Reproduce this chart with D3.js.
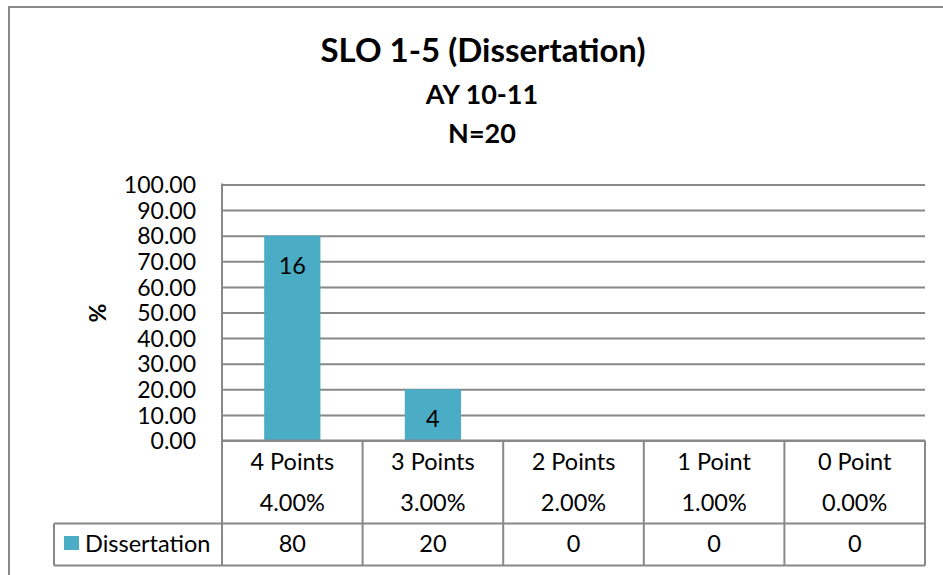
<!DOCTYPE html>
<html>
<head>
<meta charset="utf-8">
<script src="https://cdn.jsdelivr.net/npm/d3@7"></script>
<style>
  body { margin: 0; background: #fff; }
  svg text { font-family: Lato, "Open Sans", sans-serif; fill: #000; }
</style>
</head>
<body>
<svg id="chart" width="943" height="575"></svg>
<script>
// chart data
const categories = ["4 Points", "3 Points", "2 Points", "1 Point", "0 Point"];
const subLabels = ["4.00%", "3.00%", "2.00%", "1.00%", "0.00%"];
const seriesName = "Dissertation";
const percents = [80, 20, 0, 0, 0];
const counts = [16, 4, 0, 0, 0];
const yTicks = [0, 10, 20, 30, 40, 50, 60, 70, 80, 90, 100];

const svg = d3.select("#chart");
const gridColor = "#888888";
const barColor = "#4BACC6";
const labelSize = "23.5px";

const plotLeft = 222, plotRight = 925, plotTop = 184.5, zeroY = 440.5;
const row1 = 523.5, row2 = 565.5, legendLeft = 54;

// outer frame (runs off the bottom / right like the original)
svg.append("rect")
    .attr("x", 9).attr("y", 7)
    .attr("width", 960).attr("height", 600)
    .attr("fill", "none")
    .attr("stroke", gridColor)
    .attr("stroke-width", 2);

// titles
svg.append("text").attr("x", 483).attr("y", 62)
    .attr("text-anchor", "middle")
    .style("font-size", "33px").style("font-weight", "bold")
    .text("SLO 1-5 (Dissertation)");
svg.append("text").attr("x", 482).attr("y", 104)
    .attr("text-anchor", "middle")
    .style("font-size", "27px").style("font-weight", "bold")
    .text("AY 10-11");
svg.append("text").attr("x", 482).attr("y", 143)
    .attr("text-anchor", "middle")
    .style("font-size", "27px").style("font-weight", "bold")
    .text("N=20");

const x = d3.scaleBand()
    .domain(categories)
    .range([plotLeft, plotRight])
    .paddingInner(0.6)
    .paddingOuter(0.3);

const y = d3.scaleLinear()
    .domain([0, 100])
    .range([zeroY, plotTop]);

// gridlines + tick labels
const yAxis = svg.append("g")
    .attr("transform", `translate(${plotLeft},0)`)
    .call(d3.axisLeft(y)
        .tickValues(yTicks)
        .tickSize(-(plotRight - plotLeft))
        .tickPadding(26)
        .tickFormat(d3.format(".2f")));
yAxis.select(".domain").remove();
yAxis.selectAll(".tick line")
    .attr("stroke", gridColor)
    .attr("stroke-width", 2);
yAxis.selectAll(".tick text")
    .style("font-size", "23px")
    .attr("dy", "0.36em");

// axis title
svg.append("text")
    .attr("transform", "translate(106,313) rotate(-90)")
    .attr("text-anchor", "middle")
    .style("font-size", "23px").style("font-weight", "bold")
    .text("%");

// bars
svg.append("g").selectAll("rect")
    .data(percents)
    .join("rect")
    .attr("x", (d, i) => x(categories[i]))
    .attr("y", d => y(d))
    .attr("width", x.bandwidth())
    .attr("height", d => y(0) - y(d))
    .attr("fill", barColor);

// bar labels (counts)
svg.append("g").selectAll("text")
    .data(counts.map((c, i) => ({ c, p: percents[i], cat: categories[i] })).filter(d => d.c > 0))
    .join("text")
    .attr("x", d => x(d.cat) + x.bandwidth() / 2)
    .attr("y", d => y(d.p) + 38)
    .attr("text-anchor", "middle")
    .style("font-size", labelSize)
    .text(d => d.c);

// data table lines
const cols = categories.map(c => x(c) - x.step() * x.paddingInner() / 2);
cols.push(plotRight);
const lines = svg.append("g")
    .attr("stroke", gridColor)
    .attr("stroke-width", 2);
lines.append("line").attr("x1", plotLeft).attr("x2", plotLeft).attr("y1", plotTop - 1).attr("y2", row2);
lines.selectAll(".col")
    .data(cols.slice(1))
    .join("line")
    .attr("x1", d => d).attr("x2", d => d)
    .attr("y1", zeroY).attr("y2", row2);
lines.append("line").attr("x1", plotLeft).attr("x2", plotRight).attr("y1", zeroY).attr("y2", zeroY);
lines.append("line").attr("x1", legendLeft).attr("x2", plotRight).attr("y1", row1).attr("y2", row1);
lines.append("line").attr("x1", legendLeft).attr("x2", plotRight).attr("y1", row2).attr("y2", row2);
lines.append("line").attr("x1", legendLeft).attr("x2", legendLeft).attr("y1", row1).attr("y2", row2);

// category labels
const cx = c => x(c) + x.bandwidth() / 2;
svg.append("g").selectAll("text")
    .data(categories)
    .join("text")
    .attr("x", d => cx(d))
    .attr("y", 470)
    .attr("text-anchor", "middle")
    .style("font-size", labelSize)
    .text(d => d);
svg.append("g").selectAll("text")
    .data(subLabels)
    .join("text")
    .attr("x", (d, i) => cx(categories[i]))
    .attr("y", 511)
    .attr("text-anchor", "middle")
    .style("font-size", labelSize)
    .text(d => d);

// series row
svg.append("rect")
    .attr("x", 64).attr("y", 536)
    .attr("width", 15).attr("height", 14)
    .attr("fill", barColor);
svg.append("text")
    .attr("x", 85).attr("y", 552)
    .style("font-size", labelSize)
    .text(seriesName);
svg.append("g").selectAll("text")
    .data(percents)
    .join("text")
    .attr("x", (d, i) => cx(categories[i]))
    .attr("y", 552)
    .attr("text-anchor", "middle")
    .style("font-size", labelSize)
    .text(d => d);
</script>
</body>
</html>
